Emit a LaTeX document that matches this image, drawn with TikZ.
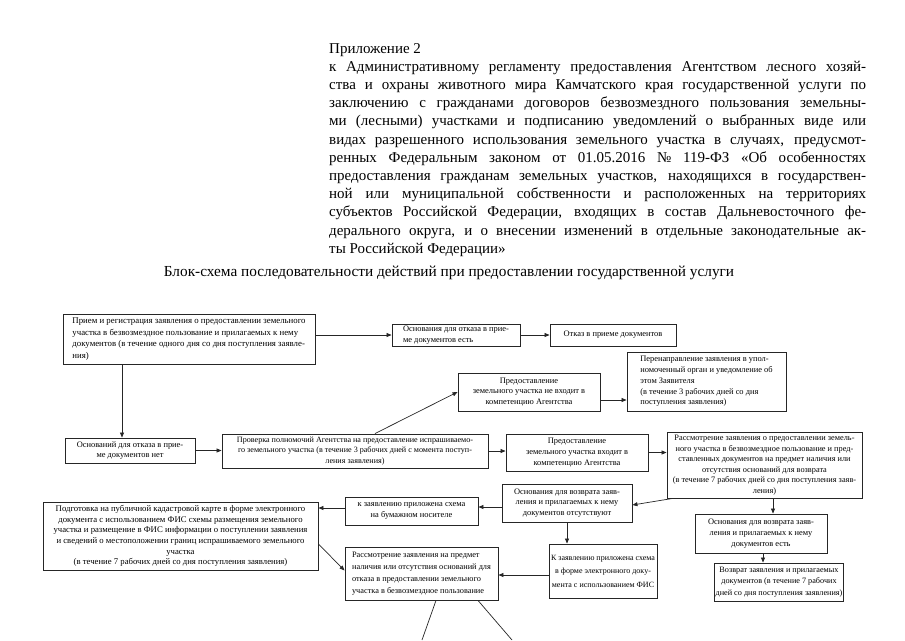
\documentclass[tikz,border=0pt]{standalone}
\usepackage{fontspec}
\setmainfont{Liberation Serif}
\usetikzlibrary{arrows.meta}
\begin{document}
\begin{tikzpicture}[x=1pt,y=-1pt,
  hdr/.style={anchor=base west,inner sep=0pt,font=\fontsize{15}{18}\selectfont},
  box/.style={draw=black!85,line width=0.9pt,inner sep=1pt,font=\fontsize{8.4}{10.8}\selectfont,align=center},
  lbox/.style={box,align=left},
  arr/.style={draw=black!85,line width=0.7pt,-{Triangle[length=5pt,width=4pt]}},
  ln/.style={draw=black!85,line width=0.7pt}]
\useasboundingbox (0,0) rectangle (905,640);
% header
\node[hdr] (h1) at (329,53) {Приложение 2};
\node[hdr] (h2) at (329,71.2) {\makebox[537pt][s]{к Административному регламенту предоставления Агентством лесного хозяй-}};
\node[hdr] (h3) at (329,89.4) {\makebox[537pt][s]{ства и охраны животного мира Камчатского края государственной услуги по}};
\node[hdr] (h4) at (329,107.6) {\makebox[537pt][s]{заключению с гражданами договоров безвозмездного пользования земельны-}};
\node[hdr] (h5) at (329,125.8) {\makebox[537pt][s]{ми (лесными) участками и подписанию уведомлений о выбранных виде или}};
\node[hdr] (h6) at (329,144) {\makebox[537pt][s]{видах разрешенного использования земельного участка в случаях, предусмот-}};
\node[hdr] (h7) at (329,162.2) {\makebox[537pt][s]{ренных Федеральным законом от 01.05.2016 № 119-ФЗ «Об особенностях}};
\node[hdr] (h8) at (329,180.4) {\makebox[537pt][s]{предоставления гражданам земельных участков, находящихся в государствен-}};
\node[hdr] (h9) at (329,198.6) {\makebox[537pt][s]{ной или муниципальной собственности и расположенных на территориях}};
\node[hdr] (h10) at (329,216.8) {\makebox[537pt][s]{субъектов Российской Федерации, входящих в состав Дальневосточного фе-}};
\node[hdr] (h11) at (329,235) {\makebox[537pt][s]{дерального округа, и о внесении изменений в отдельные законодательные ак-}};
\node[hdr] (h12) at (329,253.2) {ты Российской Федерации»};
\node[font=\fontsize{15.3}{18}\selectfont,inner sep=0pt] (title) at (449,273) {Блок-схема последовательности действий при предоставлении государственной услуги};
% boxes
\node[lbox,font=\fontsize{8.8}{11.6}\selectfont,minimum width=252pt,minimum height=50pt] (A) at (189,339) {Прием и регистрация заявления о предоставлении земельного\\участка в безвозмездное пользование и прилагаемых к нему\\документов (в течение одного дня со дня поступления заявле-\\ния)};
\node[lbox,minimum width=128pt,minimum height=22pt] (B) at (456,335) {Основания для отказа в прие-\\ме документов есть};
\node[box,minimum width=126pt,minimum height=22pt] (C) at (613,335) {Отказ в приеме документов};
\node[lbox,minimum width=159pt,minimum height=59pt] (E) at (706.5,381.5) {Перенаправление заявления в упол-\\номоченный орган и уведомление об\\этом Заявителя\\(в течение 3 рабочих дней со дня\\поступления заявления)};
\node[box,minimum width=142pt,minimum height=38pt] (D) at (529,392) {Предоставление\\земельного участка не входит в\\компетенцию Агентства};
\node[box,minimum width=130pt,minimum height=25pt] (G) at (130,450.5) {Оснований для отказа в прие-\\ме документов нет};
\node[box,font=\fontsize{8.1}{10.8}\selectfont,minimum width=266pt,minimum height=34pt] (F) at (355,451) {Проверка полномочий Агентства на предоставление испрашиваемо-\\го земельного участка (в течение 3 рабочих дней с момента поступ-\\ления заявления)};
\node[box,minimum width=142pt,minimum height=37pt] (H) at (577,452.5) {Предоставление\\земельного участка входит в\\компетенцию Агентства};
\node[box,font=\fontsize{8.3}{10.5}\selectfont,minimum width=195pt,minimum height=66pt] (I) at (764.5,465) {Рассмотрение заявления о предоставлении земель-\\ного участка в безвозмездное пользование и пред-\\ставленных документов на предмет наличия или\\отсутствия оснований для возврата\\(в течение 7 рабочих дней со дня поступления заяв-\\ления)};
\node[box,minimum width=130pt,minimum height=38pt] (J) at (567,503) {Основания для возврата заяв-\\ления и прилагаемых к нему\\документов отсутствуют};
\node[box,minimum width=133pt,minimum height=28pt] (K) at (411.5,511) {к заявлению приложена схема\\на бумажном носителе};
\node[box,font=\fontsize{8.7}{10.6}\selectfont,minimum width=275pt,minimum height=68pt] (L) at (180.5,536) {Подготовка на публичной кадастровой карте в форме электронного\\документа с использованием ФИС схемы размещения земельного\\участка и размещение в ФИС информации о поступлении заявления\\и сведений о местоположении границ испрашиваемого земельного\\участка\\(в течение 7 рабочих дней со дня поступления заявления)};
\node[lbox,font=\fontsize{8.3}{12}\selectfont,minimum width=153pt,minimum height=53pt] (M) at (421.5,573.5) {Рассмотрение заявления на предмет\\наличия или отсутствия оснований для\\отказа в предоставлении земельного\\участка в безвозмездное пользование};
\node[box,font=\fontsize{8.0}{13.5}\selectfont,minimum width=108pt,minimum height=54pt] (N) at (603,571) {К заявлению приложена схема\\в форме электронного доку-\\мента с использованием ФИС};
\node[box,minimum width=132pt,minimum height=39pt] (O) at (761,533.5) {Основания для возврата заяв-\\ления и прилагаемых к нему\\документов есть};
\node[box,font=\fontsize{8.2}{11.5}\selectfont,minimum width=128pt,minimum height=38pt] (P) at (779,582) {Возврат заявления и прилагаемых\\документов (в течение 7 рабочих\\дней со дня поступления заявления)};
% helper coordinates
\coordinate (xAG) at (122,0);
\coordinate (xFD) at (375,0);
\coordinate (yDE) at (0,400);
\coordinate (yJK) at (0,507);
\coordinate (yKL) at (0,508);
\coordinate (yNM) at (0,575);
\coordinate (xIO) at (773,0);
\coordinate (xOP) at (763,0);
\coordinate (xM1) at (436,0);
\coordinate (xM2) at (478,0);
\coordinate (m1) at (422,640);
\coordinate (m2) at (512,640);
% connectors
\draw[arr] (A.east |- B.west) -- (B.west);
\draw[arr] (B.east) -- (C.west);
\draw[arr] (A.south -| xAG) -- (G.north -| xAG);
\draw[arr] (G.east) -- (G.east -| F.west);
\draw[arr] (F.north -| xFD) -- (D.west);
\draw[arr] (D.east |- yDE) -- (E.west |- yDE);
\draw[arr] (F.east) -- (F.east -| H.west);
\draw[arr] (H.east) -- (H.east -| I.west);
\draw[arr] ([xshift=6pt]I.south west) -- ([yshift=-2pt]J.east);
\draw[arr] (J.west |- yJK) -- (K.east |- yJK);
\draw[arr] (K.west |- yKL) -- (L.east |- yKL);
\draw[arr] (J.south) -- (J.south |- N.north);
\draw[arr] (N.west |- yNM) -- (M.east |- yNM);
\draw[arr] ([yshift=-8pt]L.east) -- ([yshift=3pt]M.west);
\draw[arr] (I.south -| xIO) -- (O.north -| xIO);
\draw[arr] (O.south -| xOP) -- (P.north -| xOP);
\draw[ln] (M.south -| xM1) -- (m1);
\draw[ln] (M.south -| xM2) -- (m2);
\end{tikzpicture}
\end{document}
